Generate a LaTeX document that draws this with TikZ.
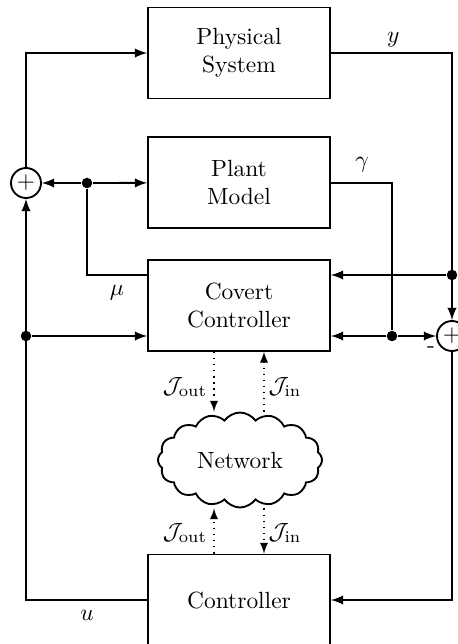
\documentclass[tikz,border=0pt]{standalone}
\usepackage{amsmath,amssymb}
\usepackage{tikz}
\usetikzlibrary{shapes.symbols,arrows}

\begin{document}
\begin{tikzpicture}[thick, >=latex,
	block/.style={draw, minimum width=2.73cm, minimum height=1.365cm, align=center},
	sumnode/.style={draw, circle, inner sep=0pt, minimum size=0.45cm},
	dot/.style={circle, fill, inner sep=0pt, minimum size=4.5pt},
	link/.style={->, semithick, dotted}]
	\useasboundingbox (0,0) rectangle (6.87,-9.66);
	% blocks
	\node[block] (phys) at (3.585,-0.795) {Physical\\System};
	\node[block] (plant) at (3.585,-2.74) {Plant\\Model};
	\node[block] (covert) at (3.585,-4.58) {Covert\\Controller};
	\node[block] (ctrl) at (3.585,-9.0) {Controller};
	\node[draw, cloud, cloud puffs=16, cloud puff arc=110, aspect=1.8, inner sep=0pt, minimum width=2.46cm, minimum height=1.425cm] (net) at (3.6,-6.9) {Network};
	\node[sumnode] (sumL) at (0.39,-2.745) {$+$};
	\node[sumnode] (sumR) at (6.78,-5.04) {$+$};
	% branch points
	\node[dot] (d1) at (1.305,-2.745) {};
	\node[dot] (d2) at (0.39,-5.04) {};
	\node[dot] (d3) at (6.78,-4.125) {};
	\node[dot] (d4) at (5.88,-5.04) {};
	\coordinate (xo) at (3.21,0);
	\coordinate (xi) at (3.96,0);
	% signals
	\draw[->] (sumL) |- (phys);
	\draw[->] (d1) -- (sumL);
	\draw[->] (d1) -- (plant);
	\draw (d1) |- (covert.west |- d3);
	\draw[->] (d2) -- (d2 -| covert.west);
	\draw[->] (ctrl) -| (sumL);
	\draw[->] (phys) -| (sumR);
	\draw[->] (d3) -- (d3 -| covert.east);
	\draw (plant) -| (d4);
	\draw[->] (d4) -- (d4 -| covert.east);
	\draw[->] (d4) -- (sumR);
	\draw[->] (sumR) |- (ctrl);
	% network traffic
	\draw[link] (covert.south -| xo) -- (net.north -| xo);
	\draw[link] (net.north -| xi) -- (covert.south -| xi);
	\draw[link] (ctrl.north -| xo) -- (net.south -| xo);
	\draw[link] (net.south -| xi) -- (ctrl.north -| xi);
	% labels
	\node (ylab) at (5.9,-0.6) {$y$};
	\node (glab) at (5.43,-2.475) {$\gamma$};
	\node (mlab) at (1.755,-4.395) {$\mu$};
	\node (ulab) at (1.305,-9.225) {$u$};
	\node (minus) at (6.465,-5.25) {-};
	\node (jo1) at (2.775,-5.805) {$\mathcal{J}_{\text{out}}$};
	\node (ji1) at (4.275,-5.805) {$\mathcal{J}_{\text{in}}$};
	\node (jo2) at (2.775,-7.995) {$\mathcal{J}_{\text{out}}$};
	\node (ji2) at (4.275,-7.995) {$\mathcal{J}_{\text{in}}$};
\end{tikzpicture}
\end{document}
